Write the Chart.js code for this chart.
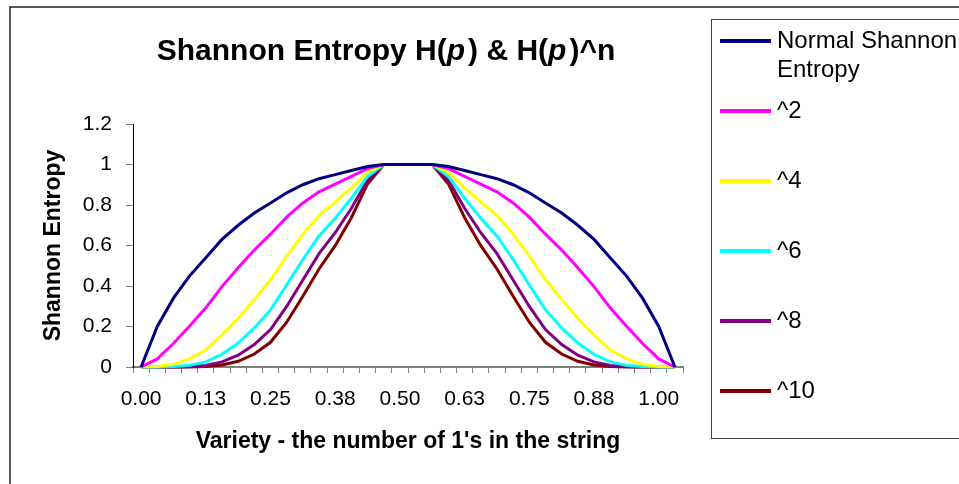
<!DOCTYPE html>
<html>
<head>
<meta charset="utf-8">
<title>Shannon Entropy H(p) & H(p)^n</title>
<script src="https://cdn.jsdelivr.net/npm/chart.js@4.4.0/dist/chart.umd.min.js"></script>
<style>
    html, body { margin: 0; padding: 0; background: #fff; }
    canvas { display: block; }
</style>
</head>
<body>
<canvas id="entropy-chart" width="959" height="484"></canvas>
<script>
// x categories as printed on the axis (only every 4th one is shown)
const xLabels = [
    "0.00", "0.03", "0.06", "0.09", "0.13", "0.16", "0.19", "0.22", "0.25", "0.28", "0.31", "0.34",
    "0.38", "0.41", "0.44", "0.47", "0.50", "0.53", "0.56", "0.59", "0.63", "0.66", "0.69", "0.72",
    "0.75", "0.78", "0.81", "0.84", "0.88", "0.91", "0.94", "0.97", "1.00", "1.03"
];
const yTicks = [0, 0.2, 0.4, 0.6, 0.8, 1, 1.2];

const seriesNames = ["Normal Shannon Entropy", "^2", "^4", "^6", "^8", "^10"];
const seriesColors = ["#000080", "#FF00FF", "#FFFF00", "#00FFFF", "#800080", "#800000"];

const entropy = [
    0, 0.20, 0.34, 0.45, 0.54, 0.63, 0.70, 0.76, 0.81, 0.86, 0.90, 0.93, 0.95, 0.97, 0.99, 1, 1,
    1, 1, 0.99, 0.97, 0.95, 0.93, 0.90, 0.86, 0.81, 0.76, 0.70, 0.63, 0.54, 0.45, 0.34, 0.20, 0
];
const entropyPow2 = [
    0, 0.040, 0.116, 0.203, 0.292, 0.397, 0.490, 0.578, 0.656, 0.740, 0.810, 0.865, 0.903, 0.941, 0.980, 1, 1,
    1, 1, 0.980, 0.941, 0.903, 0.865, 0.810, 0.740, 0.656, 0.578, 0.490, 0.397, 0.292, 0.203, 0.116, 0.040, 0
];
const entropyPow4 = [
    0, 0.002, 0.013, 0.041, 0.085, 0.158, 0.240, 0.334, 0.430, 0.547, 0.656, 0.748, 0.815, 0.885, 0.961, 1, 1,
    1, 1, 0.961, 0.885, 0.815, 0.748, 0.656, 0.547, 0.430, 0.334, 0.240, 0.158, 0.085, 0.041, 0.013, 0.002, 0
];
const entropyPow6 = [
    0, 0, 0.002, 0.008, 0.025, 0.063, 0.118, 0.193, 0.282, 0.405, 0.531, 0.647, 0.735, 0.833, 0.941, 1, 1,
    1, 1, 0.941, 0.833, 0.735, 0.647, 0.531, 0.405, 0.282, 0.193, 0.118, 0.063, 0.025, 0.008, 0.002, 0, 0
];
const entropyPow8 = [
    0, 0, 0, 0.002, 0.007, 0.025, 0.058, 0.111, 0.185, 0.299, 0.430, 0.560, 0.663, 0.784, 0.923, 1, 1,
    1, 1, 0.923, 0.784, 0.663, 0.560, 0.430, 0.299, 0.185, 0.111, 0.058, 0.025, 0.007, 0.002, 0, 0, 0
];
const entropyPow10 = [
    0, 0, 0, 0, 0.002, 0.010, 0.028, 0.064, 0.122, 0.221, 0.349, 0.484, 0.599, 0.737, 0.904, 1, 1,
    1, 1, 0.904, 0.737, 0.599, 0.484, 0.349, 0.221, 0.122, 0.064, 0.028, 0.010, 0.002, 0, 0, 0, 0
];

const seriesValues = [entropy, entropyPow2, entropyPow4, entropyPow6, entropyPow8, entropyPow10];

const FONT = '"Liberation Sans", Arial, sans-serif';

// title with italic p, outer frame and the boxed legend on the right
const framePlugin = {
    id: 'frameAndLegend',
    afterDraw(chart) {
        const ctx = chart.ctx;
        ctx.save();

        ctx.strokeStyle = '#222';
        ctx.lineWidth = 1.5;
        ctx.strokeRect(10, 7, 1000, 1000);

        // title
        const parts = [["Shannon Entropy H(", false], ["p", true], [") & H(", false], ["p", true], [")^n", false]];
        let total = 0;
        parts.forEach(([t, it]) => {
            ctx.font = (it ? 'italic ' : '') + 'bold 30px ' + FONT;
            total += ctx.measureText(t).width + (it ? 3 : 0);
        });
        let x = 386 - total / 2;
        ctx.fillStyle = '#000';
        ctx.textBaseline = 'alphabetic';
        ctx.textAlign = 'left';
        parts.forEach(([t, it]) => {
            ctx.font = (it ? 'italic ' : '') + 'bold 30px ' + FONT;
            ctx.fillText(t, x, 60);
            x += ctx.measureText(t).width + (it ? 3 : 0);
        });

        // legend
        ctx.strokeStyle = '#444';
        ctx.lineWidth = 1;
        ctx.strokeRect(711.5, 19.5, 400, 419);
        ctx.font = '24px ' + FONT;
        ctx.textBaseline = 'middle';
        chart.data.datasets.forEach((ds, i) => {
            const y = 41 + i * 70;
            ctx.strokeStyle = ds.borderColor;
            ctx.lineWidth = 4;
            ctx.beginPath();
            ctx.moveTo(720, y);
            ctx.lineTo(771, y);
            ctx.stroke();
            ctx.fillStyle = '#000';
            // simple word wrap
            const words = ds.label.split(' ');
            let line = '';
            let ly = y;
            words.forEach(w => {
                const test = line ? line + ' ' + w : w;
                if (line && ctx.measureText(test).width > 185) {
                    ctx.fillText(line, 777, ly);
                    line = w;
                    ly += 29;
                } else {
                    line = test;
                }
            });
            ctx.fillText(line, 777, ly);
        });
        ctx.restore();
    }
};

new Chart(document.getElementById('entropy-chart').getContext('2d'), {
    type: 'line',
    data: {
        labels: xLabels,
        datasets: seriesNames.map((name, i) => ({
            label: name,
            data: seriesValues[i],
            borderColor: seriesColors[i],
            backgroundColor: seriesColors[i],
            borderWidth: 3,
            pointRadius: 0,
            tension: 0,
            fill: false,
            clip: false
        }))
    },
    options: {
        responsive: false,
        animation: false,
        devicePixelRatio: 1,
        layout: { padding: { top: 124, right: 276, bottom: 0, left: 0 } },
        plugins: {
            legend: { display: false },
            title: { display: false },
            tooltip: { enabled: false }
        },
        scales: {
            x: {
                type: 'category',
                offset: true,
                grid: { offset: true, drawOnChartArea: false, drawTicks: true, tickLength: 6, color: '#808080' },
                border: { color: '#808080', width: 2 },
                ticks: {
                    autoSkip: false,
                    maxRotation: 0,
                    padding: 14,
                    color: '#000',
                    font: { family: FONT, size: 21 },
                    callback: (v, i) => (i % 4 === 0 ? xLabels[i] : '')
                },
                title: {
                    display: true,
                    text: "Variety - the number of 1's in the string",
                    color: '#000',
                    font: { family: FONT, size: 23, weight: 'bold' },
                    padding: { top: 0, bottom: 29 }
                },
                afterFit: s => { s.height = 117; }
            },
            y: {
                min: 0,
                max: 1.2,
                afterBuildTicks: s => { s.ticks = yTicks.map(v => ({ value: v })); },
                grid: { drawOnChartArea: false, tickLength: 7, color: '#808080' },
                border: { color: '#000', width: 1 },
                ticks: {
                    padding: 14,
                    color: '#000',
                    font: { family: FONT, size: 21 },
                    callback: (v, i) => String(yTicks[i])
                },
                title: {
                    display: true,
                    text: 'Shannon Entropy',
                    color: '#000',
                    font: { family: FONT, size: 23, weight: 'bold' },
                    padding: { top: 40, bottom: 0 }
                },
                afterFit: s => { s.width = 133; }
            }
        }
    },
    plugins: [framePlugin]
});
</script>
</body>
</html>
